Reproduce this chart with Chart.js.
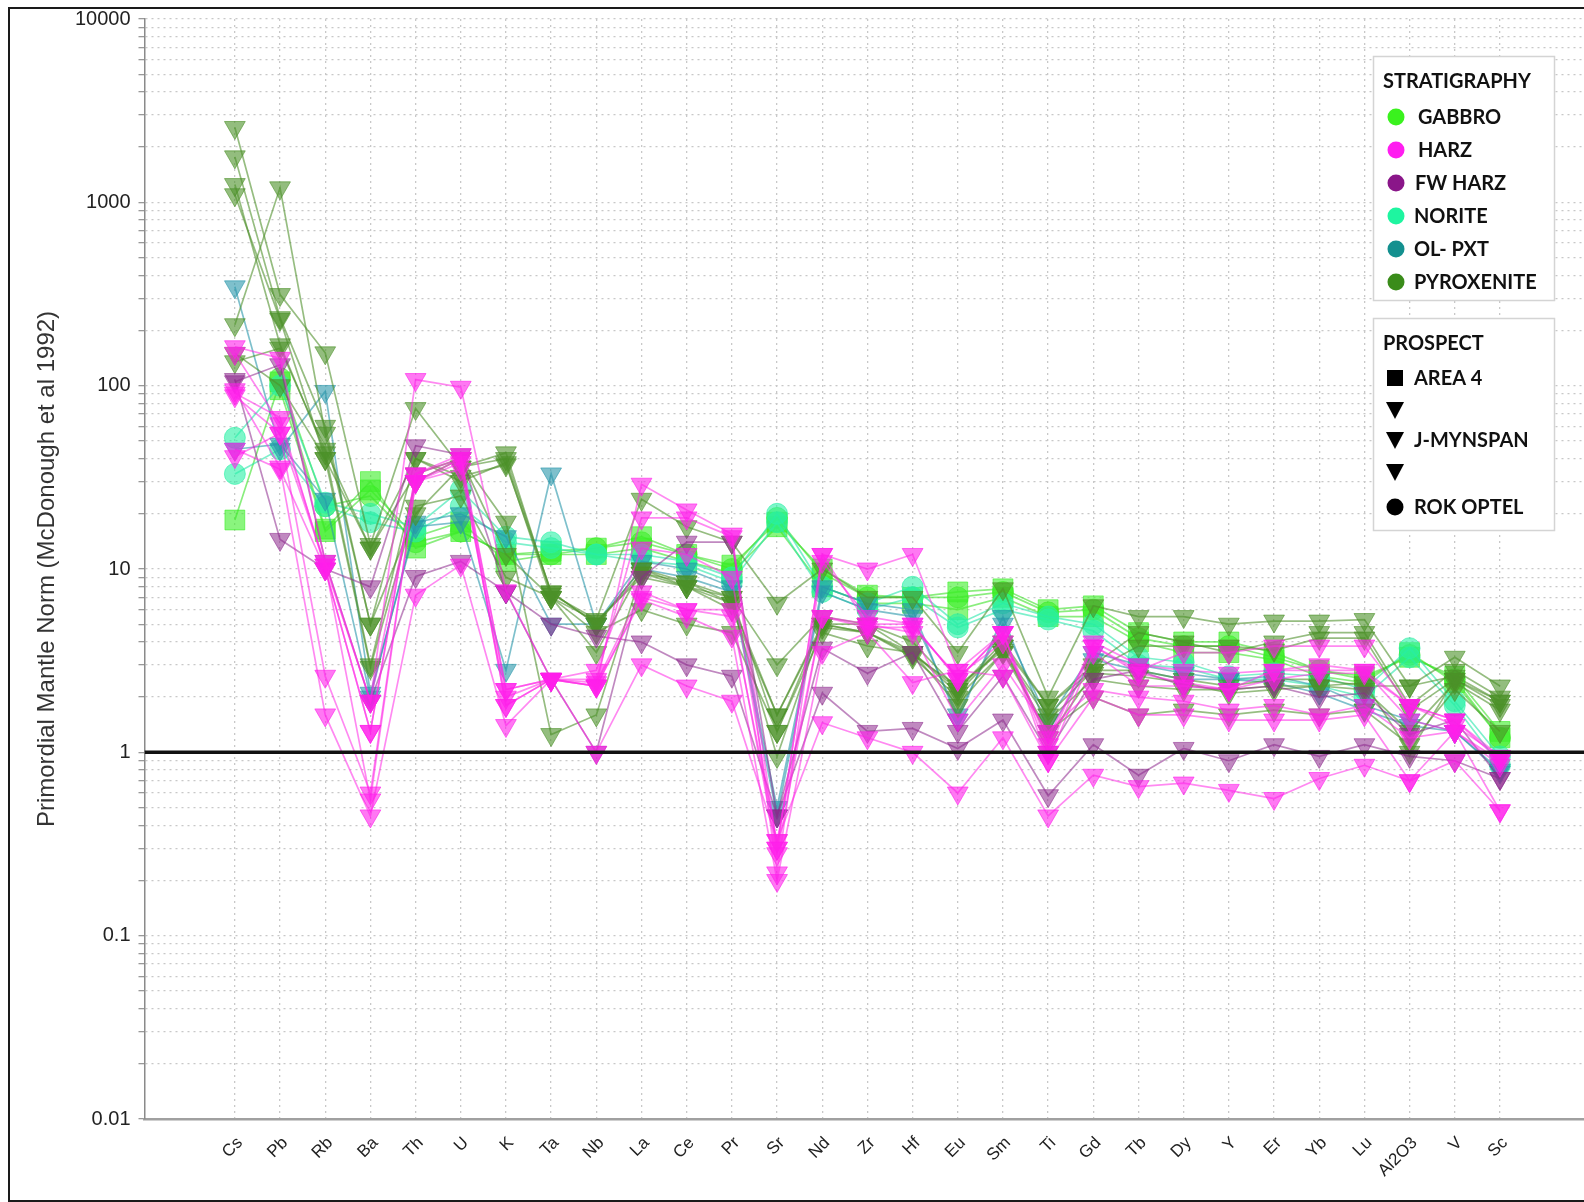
<!DOCTYPE html>
<html>
<head>
<meta charset="utf-8">
<script src="https://cdn.jsdelivr.net/npm/chart.js@4.4.1/dist/chart.umd.min.js"></script>
<style>
html,body{margin:0;padding:0;background:#fff;overflow:hidden;}
canvas{display:block;}
</style>
</head>
<body>
<canvas id="c" width="1584" height="1202"></canvas>
<script>
// ---------- DATA ----------
const categories = ['Cs','Pb','Rb','Ba','Th','U','K','Ta','Nb','La','Ce','Pr','Sr','Nd','Zr','Hf','Eu','Sm','Ti','Gd','Tb','Dy','Y','Er','Yb','Lu','Al2O3','V','Sc'];
const yTickLabels = ['0.01','0.1','1','10','100','1000','10000'];
const axisTitle = 'Primordial Mantle Norm (McDonough et al 1992)';
const referenceValue = 1;

// GABBRO
const gabbro1 = [18.5,105,16.5,30,13,16,12,12.5,13,15,12,10.5,18,10,7.2,7,7.5,7.8,6,6.3,4.5,4,4,3.5,2.8,2.6,3.3,2.6,1.3];
const gabbro2 = [null,95,16,27,15,18,11,12,12,13,11,9.5,17,8,6.5,6.5,6,7,5.5,5.5,4,3.5,3.5,3.2,2.6,2.4,3.5,2.4,1.2];
const gabbro3 = [null,110,22,25,14,16,12,12,13,14,12,10,19,9.5,7,7,7,7.5,5.8,6,4.2,3.8,3.8,3.3,2.8,2.5,3.4,2.5,1.2];
// NORITE
const norite1 = [52,100,23,20,17,27,15,14,12,12,11,9,20,8,6.5,8,5,6.5,5.5,5,3.3,3.1,2.6,2.7,2.6,2.2,3.7,1.9,0.95];
const norite2 = [33,45,22,18,16,22,14,13,12,11,10.5,8.5,18,7.5,6,7,4.8,6,5.3,4.6,3,2.9,2.5,2.5,2.3,2,3.3,1.8,0.85];
// OL- PXT
const olpxt1 = [346,45,93,2.1,17,18,2.8,33,5,10,9,7.5,0.45,7.5,6,5.5,1.6,5,1.5,3.5,3,2.7,2.5,2.6,2.3,1.8,1.5,1.3,0.8];
const olpxt2 = [45,48,24,2,18,20,15,5,5,11,10,8,0.5,8,6.5,6,1.5,5.5,1.3,3.2,2.8,2.5,2.5,2.4,2.1,1.7,1.4,1.3,0.78];
// PYROXENITE
const pyrox1 = [2560,314,151,13.6,75,36,43,7.3,5.3,24,17,14,6.5,10,7,7,3.5,7.8,2,6.3,5.5,5.5,5,5.2,5.2,5.3,2.3,3.3,2.3];
const pyrox2 = [1770,235,60,5,40,32,37,7.5,5,10,8.5,7,3,5.5,5,3.5,2.2,3.8,1.8,2.8,2.8,2.5,2.3,2.5,2.5,2.3,2.3,2.6,1.9];
const pyrox3 = [1250,167,43,3,30,40,18,1.25,1.6,9.5,8,6.5,1.6,5,4.5,3.3,2,3.5,1.5,2.5,2.3,2.2,2.2,2.3,2.3,2.2,1.3,2.4,1.7];
const pyrox4 = [1100,230,40,2.9,22,25,9,7,4.5,6,5,4.5,1.3,4.5,3.8,3.5,1.8,3.5,1.3,2,1.6,1.7,1.6,1.7,1.6,1.7,1.1,2.2,1.3];
const pyrox5 = [215,1200,55,5,20,36,40,7.5,5,9.5,8.5,6.5,0.95,5,5,4,2.2,4,1.8,3,4.5,4,3.5,4,4.5,4.5,1.8,2.8,2];
const pyrox6 = [135,160,45,13,33,40,12,7,3.5,10,8,6,1.6,4.8,4.5,3.5,2.1,3.8,1.2,2.7,2.6,2.4,2.1,2.2,2.3,2.4,1,2.5,1.8];
const pyrox7 = [150,100,40,13,40,30,38,7,5.2,9,8,7,1.3,5,4.5,3.4,2.3,3.6,1.6,2.8,3.8,3.8,3.8,3.6,4.2,4.2,1.7,2.5,1.9];
// HARZ
const harz1 = [163,141,11,1.9,108,98,7.6,2.5,2.3,29,21,15.5,0.3,12,10,12,2.8,4.5,1.0,3.8,2.8,3.5,3.5,3.8,3.8,3.8,1.8,1.5,0.95];
const harz2 = [91,67,10,1.3,33,42,2.2,2.5,2.5,19,19,15,0.22,11,5.5,5,2.5,4.5,0.9,3.5,2.3,2.3,2.2,2.8,3,2.8,1.5,1.3,0.9];
const harz3 = [41,55,2.6,0.6,30,40,1.8,2.5,2.4,7.5,6,6,0.28,5.5,5,4.5,1.5,3,1.3,2.2,2,1.9,1.7,1.8,1.6,1.8,1.2,1.3,0.85];
const harz4 = [95,36,1.6,0.45,7.2,10.5,1.4,2.5,2.3,6.8,5.5,4.3,0.2,3.5,4.5,2.4,2.8,2.6,0.9,2,1.6,1.6,1.5,1.5,1.5,1.6,0.7,1.3,0.48];
const harz5 = [150,62,10.5,0.55,30,35,2,2.5,1.0,3,2.3,1.9,0.33,1.45,1.2,1.0,0.6,1.2,0.45,0.75,0.65,0.68,0.62,0.56,0.72,0.85,0.7,0.9,0.48];
const harz6 = [45,35,10,1.3,33,40,2.2,2.5,2.8,13,12,9,0.3,12,5,5,2.5,4.5,1.1,4,3,2.8,2.7,2.8,2.8,2.8,1.8,1.5,0.9];
const harz7 = [88,55,10.5,1.9,30,38,1.8,2.5,2.3,7,6,5.5,0.33,5.5,4.8,4.8,2.6,4,1.2,3.8,2.7,2.4,2.2,2.5,2.7,2.7,1.8,1.4,0.95];
// FW HARZ
const fwharz1 = [108,14.5,10,8,47,42,7.5,5,4.3,4,3,2.6,0.45,2.1,1.3,1.35,1.05,1.5,0.58,1.1,0.75,1.05,0.9,1.1,0.95,1.1,0.95,0.9,0.72];
const fwharz2 = [105,130,11,1.9,9.1,11,7.5,2.5,1.0,9,14,14,0.45,3.7,2.7,3.5,1.3,2.6,1.0,2.5,2.8,2.3,2.2,2.3,2,2.1,1.25,1.5,0.72];

const samples = [
  {values: harz1, group: 'HARZ', prospect: 'J-MYNSPAN'},
  {values: harz2, group: 'HARZ', prospect: 'J-MYNSPAN'},
  {values: harz3, group: 'HARZ', prospect: 'J-MYNSPAN'},
  {values: harz4, group: 'HARZ', prospect: 'J-MYNSPAN'},
  {values: harz5, group: 'HARZ', prospect: 'J-MYNSPAN'},
  {values: harz6, group: 'HARZ', prospect: 'J-MYNSPAN'},
  {values: harz7, group: 'HARZ', prospect: 'J-MYNSPAN'},
  {values: fwharz1, group: 'FW HARZ', prospect: 'J-MYNSPAN'},
  {values: fwharz2, group: 'FW HARZ', prospect: 'J-MYNSPAN'},
  {values: pyrox1, group: 'PYROXENITE', prospect: 'J-MYNSPAN'},
  {values: pyrox2, group: 'PYROXENITE', prospect: 'J-MYNSPAN'},
  {values: pyrox3, group: 'PYROXENITE', prospect: 'J-MYNSPAN'},
  {values: pyrox4, group: 'PYROXENITE', prospect: 'J-MYNSPAN'},
  {values: pyrox5, group: 'PYROXENITE', prospect: 'J-MYNSPAN'},
  {values: pyrox6, group: 'PYROXENITE', prospect: 'J-MYNSPAN'},
  {values: pyrox7, group: 'PYROXENITE', prospect: 'J-MYNSPAN'},
  {values: olpxt1, group: 'OL- PXT', prospect: 'J-MYNSPAN'},
  {values: olpxt2, group: 'OL- PXT', prospect: 'J-MYNSPAN'},
  {values: norite1, group: 'NORITE', prospect: 'ROK OPTEL'},
  {values: norite2, group: 'NORITE', prospect: 'ROK OPTEL'},
  {values: gabbro3, group: 'GABBRO', prospect: 'ROK OPTEL'},
  {values: gabbro1, group: 'GABBRO', prospect: 'AREA 4'},
  {values: gabbro2, group: 'GABBRO', prospect: 'AREA 4'}
];

const stratLegend = ['GABBRO','HARZ','FW HARZ','NORITE','OL- PXT','PYROXENITE'];
const prospectLegend = ['AREA 4','','J-MYNSPAN','','ROK OPTEL'];

// ---------- STYLE ----------
const legendColors = {
  'GABBRO':'#3af21e','HARZ':'#ff1ef0','FW HARZ':'#8a1689','NORITE':'#1ef5a0','OL- PXT':'#13908f','PYROXENITE':'#3a8c1a'
};
const plotFill = {
  'GABBRO':'rgba(60,238,40,0.6)','HARZ':'rgba(255,30,235,0.6)','FW HARZ':'rgba(140,40,140,0.55)',
  'NORITE':'rgba(40,240,165,0.6)','OL- PXT':'rgba(40,150,170,0.6)','PYROXENITE':'rgba(75,145,40,0.6)'
};
const plotLine = {
  'GABBRO':'rgba(60,225,40,0.6)','HARZ':'rgba(255,40,230,0.55)','FW HARZ':'rgba(140,40,140,0.55)',
  'NORITE':'rgba(40,230,170,0.6)','OL- PXT':'rgba(40,150,170,0.6)','PYROXENITE':'rgba(80,145,45,0.6)'
};
const shapeOf = {'AREA 4':'rect','J-MYNSPAN':'triangle','ROK OPTEL':'circle'};
const radiusOf = {'rect':14,'triangle':12,'circle':10.5};

const datasets = samples.map(s => {
  const shape = shapeOf[s.prospect];
  return {
    data: s.values.map((v,i)=>({x:i,y:v})),
    borderColor: plotLine[s.group],
    backgroundColor: plotFill[s.group],
    pointBorderColor: plotFill[s.group],
    borderWidth: 1.7,
    pointBorderWidth: 1,
    pointStyle: shape,
    pointRotation: shape==='triangle'?180:0,
    pointRadius: radiusOf[shape],
    spanGaps: true,
    order: 1
  };
});
datasets.push({
  data: [{x:-2,y:referenceValue},{x:40,y:referenceValue}],
  borderColor:'#111', borderWidth:3.5, pointRadius:0, order:0
});

const frameAndLegend = {
  id:'frameAndLegend',
  afterDraw(chart){
    const ctx = chart.ctx;
    ctx.save();
    ctx.strokeStyle = '#1a1a1a'; ctx.lineWidth = 2;
    ctx.strokeRect(9,8,1620,1193);
    ctx.fillStyle='#fff'; ctx.strokeStyle='#d4d4d4'; ctx.lineWidth=1.5;
    ctx.fillRect(1373,56,181,244); ctx.strokeRect(1373.5,56.5,181,244);
    ctx.fillRect(1373,318,181,212); ctx.strokeRect(1373.5,318.5,181,212);
    ctx.font = 'bold 20px Lato';
    const w = ctx.measureText('STRATIGRAPHY').width;
    const fs = 20*148/w;
    ctx.font = 'bold '+fs.toFixed(2)+'px Lato';
    ctx.fillStyle='#111'; ctx.textBaseline='middle'; ctx.textAlign='left';
    ctx.fillText('STRATIGRAPHY',1383,82);
    const sy = [117,150,183,216,249,282];
    const sx = [1418,1418,1415,1414,1414,1414];
    stratLegend.forEach((g,i)=>{
      ctx.fillStyle = legendColors[g];
      ctx.beginPath(); ctx.arc(1396,sy[i],8.5,0,Math.PI*2); ctx.fill();
      ctx.fillStyle='#111';
      ctx.fillText(g,sx[i],sy[i]+1);
    });
    ctx.fillText('PROSPECT',1383,344);
    const py = [378,410,440,472,507];
    prospectLegend.forEach((p,i)=>{
      ctx.fillStyle='#000';
      const y = py[i];
      if (i===0){ ctx.fillRect(1387,y-8,16,16); }
      else if (i===4){ ctx.beginPath(); ctx.arc(1395,y,8.5,0,Math.PI*2); ctx.fill(); }
      else { ctx.beginPath(); ctx.moveTo(1386,y-8); ctx.lineTo(1404,y-8); ctx.lineTo(1395,y+9); ctx.closePath(); ctx.fill(); }
      if (p){ ctx.fillStyle='#111'; ctx.fillText(p,1414,y+1); }
    });
    ctx.restore();
  }
};

const xTicks = [];
for (let v=-2; v<=29; v++) xTicks.push(v);
const yTicks = [];
for (let e=-2; e<=3; e++) for (let k=1;k<=9;k++) yTicks.push(Number((k*Math.pow(10,e)).toPrecision(3)));
yTicks.push(10000);

new Chart(document.getElementById('c'), {
  type:'line',
  data:{datasets},
  plugins:[frameAndLegend],
  options:{
    responsive:false, animation:false,
    layout:{autoPadding:false, padding:{left:0,right:0,top:19,bottom:0}},
    plugins:{legend:{display:false}, tooltip:{enabled:false}},
    scales:{
      x:{
        type:'linear', min:-2, max:29.86,
        afterBuildTicks(s){ s.ticks = xTicks.map(v=>({value:v})); },
        afterFit(s){ s.height = 83; s.paddingLeft = 0; s.paddingRight = 0; },
        grid:{color:(c)=> (c.tick && c.tick.value>=0 && c.tick.value<categories.length) ? '#c8c8c8' : 'rgba(0,0,0,0)', lineWidth:1.3, drawTicks:false},
        border:{display:true, color:'#a0a0a0', width:2.5, dash:[2,4]},
        ticks:{autoSkip:false, maxRotation:45, minRotation:45, padding:14, labelOffset:5,
          font:{family:'"Liberation Sans", Arial, sans-serif', size:17}, color:'#222',
          callback:(v)=> (v>=0 && v<categories.length) ? categories[v] : ''}
      },
      y:{
        type:'logarithmic', min:0.01, max:10000,
        afterBuildTicks(s){ s.ticks = yTicks.map(v=>({value:v})); },
        afterFit(s){ s.width = 144.5; s.paddingTop = 0; s.paddingBottom = 0; },
        grid:{color:'#c8c8c8', lineWidth:1.3, tickLength:6, tickColor:'#999'},
        border:{display:true, color:'#8a8a8a', width:1.5, dash:[2,4]},
        ticks:{autoSkip:false, padding:8, color:'#222',
          font:{family:'"Liberation Sans", Arial, sans-serif', size:20},
          callback:(v)=>{ const l=Math.log10(v); if (Math.abs(l-Math.round(l))<1e-9){ return yTickLabels[Math.round(l)+2]; } return ''; }},
        title:{display:true, text:axisTitle, padding:{top:33,bottom:0}, color:'#333',
          font:{family:'"Liberation Sans", Arial, sans-serif', size:24}}
      }
    }
  }
});
</script>
</body>
</html>
